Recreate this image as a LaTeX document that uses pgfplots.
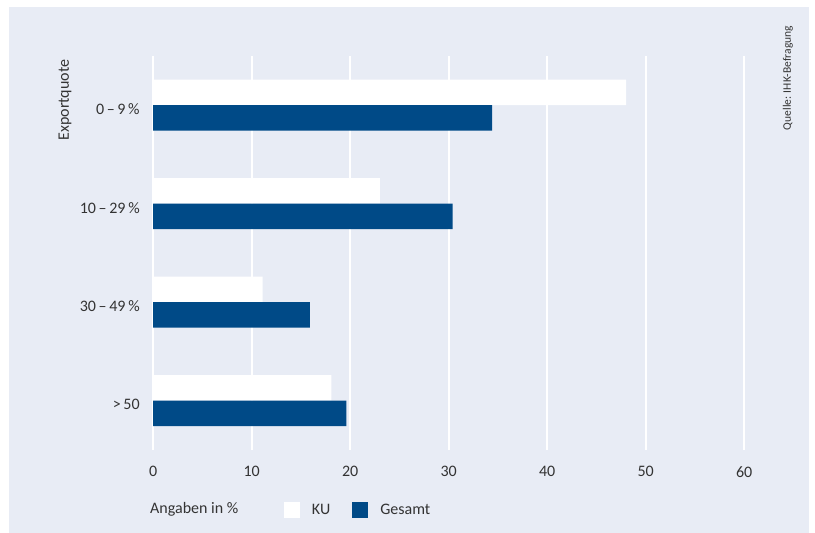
\documentclass[border=0pt]{standalone}
\usepackage{pgfplots}
\pgfplotsset{compat=1.18}
\usepackage{fontspec}
\setmainfont{Carlito}
\definecolor{panel}{HTML}{E8ECF5}
\definecolor{gesamt}{HTML}{004A87}
\definecolor{txt}{HTML}{333333}
\newcommand\lbl{\fontsize{16bp}{19bp}\selectfont}

\begin{document}
\begin{tikzpicture}
\fill[white] (0bp,0bp) rectangle (815bp,533bp);
\fill[panel] (9bp,0bp) rectangle (809bp,526.3bp);
\begin{axis}[
  at={(153.2bp,83bp)}, anchor=south west,
  scale only axis, width=591bp, height=394bp,
  xmin=0, xmax=60, ymin=-0.5, ymax=3.5,
  xtick={0,10,...,60},
  ytick={0,1,2,3},
  yticklabels={{>\,50}, {30\,--\,49\,\%}, {10\,--\,29\,\%}, {0\,--\,9\,\%}},
  axis line style={draw=none},
  major tick length=0pt,
  xmajorgrids, ymajorgrids=false,
  major grid style={white, line width=1.6bp},
  /pgf/number format/assume math mode=true,
  every tick label/.append style={font=\lbl, text=txt},
  xticklabel style={yshift=-13bp},
  yticklabel style={xshift=-10bp, yshift=-4bp},
  legend columns=-1,
  legend style={draw=none, fill=none, inner sep=0pt, outer sep=0pt,
    at={(0.2213,-0.1515)}, anchor=west, font=\lbl, text=txt,
    /tikz/every even column/.append style={column sep=20bp},
    /tikz/every odd column/.append style={column sep=10bp}},
  legend image code/.code={\path[#1] (0bp,-8bp) rectangle (16bp,8bp);},
  clip=false,
]
% KU
\addplot[xbar, fill=white, draw=none, bar width=25.5bp, bar shift=12.75bp]
  coordinates {(18.1,0) (11.1,1) (23.0,2) (48.0,3)};
\addlegendentry{KU}
% Gesamt
\addplot[xbar, fill=gesamt, draw=none, bar width=25.5bp, bar shift=-12.75bp]
  coordinates {(19.6,0) (15.9,1) (30.4,2) (34.4,3)};
\addlegendentry{Gesamt}

\node[font=\lbl, text=txt, inner sep=0pt, anchor=west]
  at (axis description cs:-0.0054,-0.1515) {Angaben in \%};
\node[font=\lbl, text=txt, rotate=90, inner sep=0pt]
  at (axis description cs:-0.1492,0.888) {Exportquote};
\node[font=\fontsize{11.5bp}{14bp}\selectfont, text=txt, rotate=90, inner sep=0pt]
  at (axis description cs:1.074,0.944) {Quelle: IHK-Befragung};
\end{axis}
\pgfresetboundingbox
\useasboundingbox (0bp,0bp) rectangle (815bp,533bp);
\end{tikzpicture}
\end{document}
